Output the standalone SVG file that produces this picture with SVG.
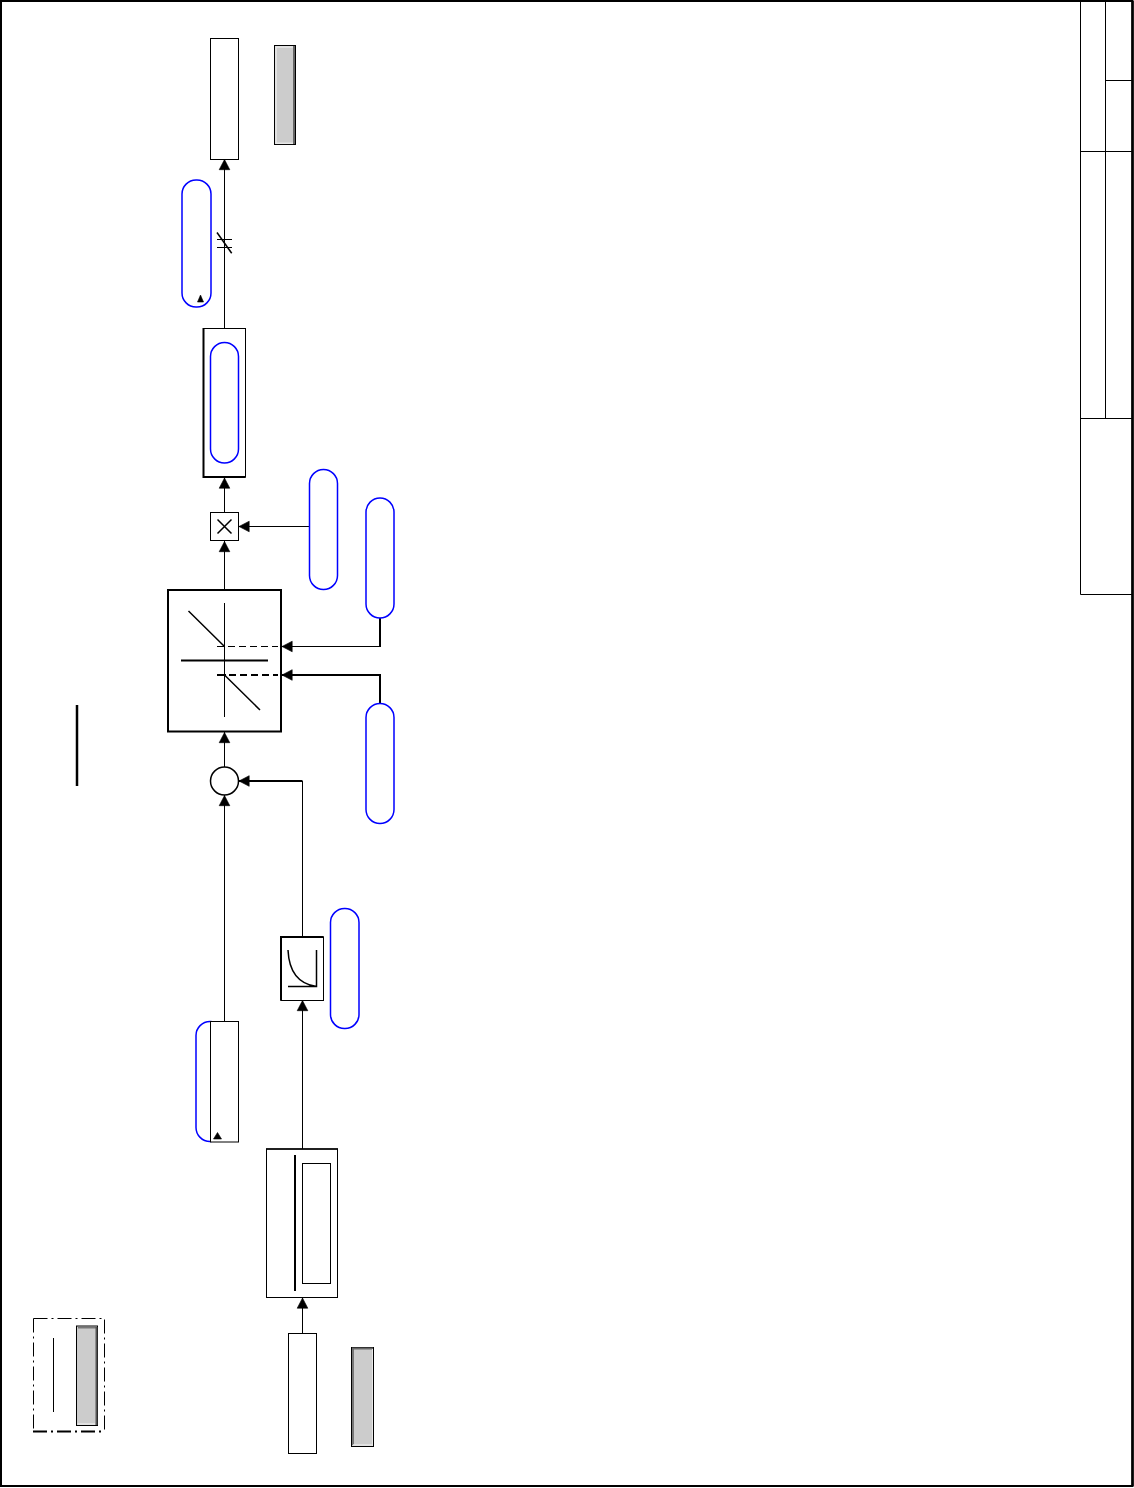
<svg xmlns="http://www.w3.org/2000/svg" width="1134" height="1488" viewBox="0 0 1134 1488">
<style>
.b{fill:#fff;stroke:#000;stroke-width:1}
.t{fill:#fff;stroke:#000;stroke-width:2}
.l{fill:none;stroke:#000;stroke-width:1}
.m{fill:none;stroke:#000;stroke-width:1.500}
.h{fill:none;stroke:#000;stroke-width:2}
.p{fill:#fff;stroke:#0000ff;stroke-width:1.500}
.g{fill:#ccc;stroke:#000;stroke-width:1}
.a{fill:#000;stroke:#000;stroke-width:0.600;stroke-linejoin:round}
</style>
<defs>
<path id="up" class="a" d="M0 0.500L5.300 10.700H-5.300Z"/>
<path id="left" class="a" d="M0.500 0L10.700 -5.300V5.300Z"/>
</defs>
<rect width="1134" height="1488" fill="#fff"/>
<g id="frame">
<path class="h" d="M1 1H1132.500V1486H1V1Z"/>
<path d="M1132.500 1V1486" stroke="#000" stroke-width="2.500" fill="none"/>
<path class="l" d="M1080.500 1V594.500H1133M1105.500 1V418.500M1105.500 80.500H1133M1080.500 151.500H1133M1080.500 418.500H1133"/>
</g>
<g id="connectors">
<path class="l" d="M224.500 159V329"/>
<path class="l" d="M217 239.500H232M217 247.500H232"/>
<path class="m" d="M217 232.500L231.700 253.300"/>
<path class="l" d="M224.500 477V512M224.500 541V590M224.500 732V767M224.500 795V1022"/>
<path class="l" d="M238 526.500H310"/>
<path class="l" d="M281 646.500H380"/>
<path class="h" d="M380 618V647"/>
<path class="h" d="M281 675H380V703"/>
<path class="h" d="M238 781H302.500"/>
<path class="l" d="M302.500 781V937M302.500 1000V1149M302.500 1297V1333"/>
<use href="#up" x="224.500" y="159"/>
<use href="#up" x="224.500" y="477.500"/>
<use href="#up" x="224.500" y="541"/>
<use href="#up" x="224.500" y="732"/>
<use href="#up" x="224.500" y="795"/>
<use href="#up" x="302.500" y="1000"/>
<use href="#up" x="302.500" y="1297.500"/>
<use href="#left" x="238.500" y="526.500"/>
<use href="#left" x="281.500" y="646.500"/>
<use href="#left" x="281.500" y="675"/>
<use href="#left" x="238.500" y="781"/>
</g>
<g id="node-top-box"><rect class="b" x="210.500" y="38.500" width="28" height="121"/></g>
<g id="node-top-grey">
<rect class="g" x="274.500" y="45.500" width="21" height="99"/>
<path d="M276 144V47H293" fill="none" stroke="#e8e8e8" stroke-width="1.500"/>
<path d="M276 143.300H293" fill="none" stroke="#e8e8e8" stroke-width="1.500"/>
<path d="M294 46V144" fill="none" stroke="#666" stroke-width="2"/>
</g>
<g id="node-pill-1">
<rect class="p" x="182" y="180" width="29" height="127" rx="14" ry="14"/>
<path class="a" d="M200.500 295L203.500 302H197.500Z"/>
</g>
<g id="node-block-pill">
<rect class="b" x="203.500" y="328.500" width="42" height="148.500"/>
<path d="M203.500 328V477H245.500" fill="none" stroke="#000" stroke-width="2"/>
<rect class="p" x="210.500" y="342.500" width="28" height="120.500" rx="14" ry="14"/>
</g>
<g id="node-multiply">
<rect class="b" x="210.500" y="512.500" width="28" height="28"/>
<path class="m" d="M217.500 519.500L231.500 533.500M231.500 519.500L217.500 533.500"/>
</g>
<g id="node-pill-2"><rect class="p" x="309.500" y="469.500" width="28" height="120" rx="14" ry="14"/></g>
<g id="node-pill-3"><rect class="p" x="366" y="498" width="28" height="120" rx="14" ry="14"/></g>
<g id="node-limiter">
<rect class="t" x="168" y="590" width="113" height="141.500"/>
<path class="l" d="M224.500 603V717"/>
<path class="m" d="M188.500 611L224.500 646.500M260 710L224.500 675"/>
<path class="h" d="M181 660.500H268"/>
<path class="l" d="M217 646.500H224.500"/>
<path class="l" stroke-dasharray="7 4" d="M228 646.500H278"/>
<path class="h" d="M217 675H226"/>
<path class="h" stroke-dasharray="7 4" d="M229 675H278"/>
</g>
<g id="node-pill-4"><rect class="p" x="366" y="703.500" width="28" height="120" rx="14" ry="14"/></g>
<g id="node-sum"><circle cx="224.500" cy="781" r="14" fill="#fff" stroke="#000" stroke-width="1.500"/></g>
<g id="node-bar"><path d="M77 705V786" stroke="#000" stroke-width="2.500" fill="none"/></g>
<g id="node-curve">
<rect class="b" x="281" y="937" width="42.500" height="63.500"/>
<path d="M281 1000.500V937H323.500" fill="none" stroke="#000" stroke-width="2"/>
<path class="m" d="M288 950C289 972 298 984 316.500 986.500V950M288 986.500H316.500" stroke-width="1.200"/>
</g>
<g id="node-pill-5"><rect class="p" x="330.500" y="908.500" width="28.500" height="120" rx="14" ry="14"/></g>
<g id="node-pill-6">
<rect class="p" x="196" y="1021.500" width="28" height="120" rx="14" ry="14"/>
</g>
<g id="node-mid-box">
<rect class="b" x="210.500" y="1021.500" width="28" height="120.500"/>
<path class="a" d="M217.500 1132.500L221.500 1139H213.500Z"/>
</g>
<g id="node-double">
<rect class="b" x="266.500" y="1149" width="71" height="148.500"/>
<path d="M266 1149H338" fill="none" stroke="#000" stroke-width="1.500"/>
<path class="h" d="M295 1155V1291"/>
<rect class="b" x="302.500" y="1163.500" width="28" height="120"/>
</g>
<g id="node-bottom-box"><rect class="b" x="288.500" y="1333.500" width="28" height="120"/></g>
<g id="node-bottom-grey">
<rect class="g" x="351.500" y="1347.500" width="22" height="99"/>
<path d="M353 1348V1445" fill="none" stroke="#777" stroke-width="2"/>
<path d="M352 1348.500H373" fill="none" stroke="#666" stroke-width="2"/>
<path d="M353 1445H372" fill="none" stroke="#e8e8e8" stroke-width="1.500"/>
<path d="M372.500 1349V1446" fill="none" stroke="#e8e8e8" stroke-width="1"/>
</g>
<g id="node-legend">
<path class="l" stroke-dasharray="14 4 2 4" d="M33.500 1318.500H104.500V1432.500"/>
<path class="l" stroke-dasharray="14 4 2 4" d="M33.500 1318.500V1432.500"/>
<path class="h" stroke-dasharray="14 4 2 4" d="M33 1431.500H104"/>
<path class="l" d="M53.500 1338V1412"/>
<rect class="g" x="76.500" y="1326" width="21" height="99.500"/>
<path d="M78 1327.500H97" fill="none" stroke="#777" stroke-width="2"/>
<path d="M96.500 1327V1425" fill="none" stroke="#555" stroke-width="2"/>
<path d="M77.500 1424H95" fill="none" stroke="#e8e8e8" stroke-width="1.500"/>
</g>
</svg>
